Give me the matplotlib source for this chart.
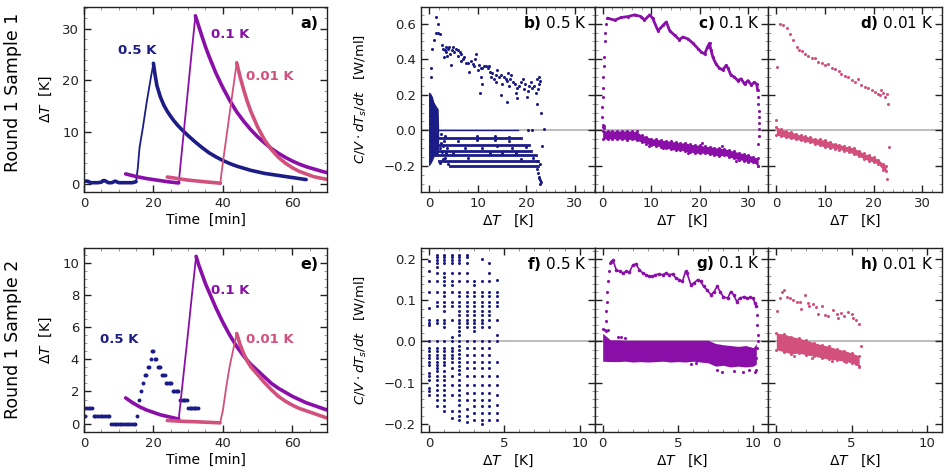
import matplotlib
matplotlib.use('Agg')
import matplotlib.pyplot as plt
from matplotlib.ticker import AutoMinorLocator, MultipleLocator

NAVY = '#1c1c87'
PURPLE = '#8a0fa8'
PINK = '#d2507c'

# ---------------- panel a (Round 1 Sample 1, time traces) ----------------
a05_t = [0, 1, 2, 3, 4, 5, 5.5, 6, 7, 8, 9, 10, 11, 12, 13, 14, 15, 15.5, 16, 17,
         18, 19, 20, 20.5, 21, 22, 23, 24, 25, 26, 27, 28, 30, 32, 34, 36, 38, 40, 42, 44,
         46, 48, 50, 52, 54, 56, 58, 60, 62, 64]
a05_v = [0.5, 0.5, 0.2, 0.2, 0.2, 0.3, 0.6, 0.6, 0.2, 0.2, 0.5, 0.2, 0.2, 0.2, 0.2, 0.2, 0.4, 3.0, 7.0, 11.0,
         15.5, 19.5, 23.3, 21.0, 19.0, 16.8, 15.2, 14.0, 13.0, 12.1, 11.3, 10.6, 9.3, 8.1, 7.0, 6.0, 5.2, 4.5, 3.9, 3.4,
         3.0, 2.6, 2.3, 2.0, 1.8, 1.6, 1.4, 1.2, 1.0, 0.8]
a01_t = [12, 15, 18, 21, 24, 27.2, 27.3, 28, 29, 30, 31, 32.1, 33, 34, 35, 36, 38, 40, 42, 44,
         46, 48, 50, 52, 54, 56, 58, 60, 62, 64, 66, 68, 70]
a01_v = [1.9, 1.4, 1.0, 0.7, 0.4, 0.15, 0.2, 5.0, 11.7, 18.5, 25.3, 32.5, 30.6, 28.5, 26.5, 24.7, 21.4, 18.6, 16.1, 13.9,
         12.1, 10.5, 9.1, 7.9, 6.8, 5.9, 5.1, 4.4, 3.8, 3.3, 2.9, 2.5, 2.15]
a001_t = [24, 27, 30, 33, 36, 39.3, 39.6, 40, 41, 42, 43, 44, 45, 46, 47, 48, 50, 52, 54, 56,
          58, 60, 62, 64, 66, 68, 70]
a001_v = [1.3, 1.0, 0.7, 0.5, 0.3, 0.1, 2.0, 4.0, 8.9, 13.8, 18.6, 23.4, 20.6, 18.2, 16.0, 14.1, 11.0, 8.5, 6.6, 5.1,
          4.0, 3.1, 2.4, 1.9, 1.4, 1.1, 0.85]

# ---------------- panel e (Round 1 Sample 2, time traces) ----------------
e05_t = [0.3, 0.3, 0.8, 1.3, 1.8, 2.3, 2.8, 3.3, 3.8, 4.3, 4.8, 5.3, 5.8, 6.3, 6.8, 7.3,
         7.8, 8.3, 8.8, 9.3, 9.8, 10.3, 10.8, 11.3, 11.8, 12.3, 12.8, 13.3, 13.8, 14.3, 14.8,
         15.3, 15.9, 16.5, 17.0, 17.6, 18.0, 18.4, 18.8, 19.2, 19.6, 20.0, 20.4, 20.8, 21.2, 21.6,
         22.0, 22.4, 22.8, 23.2, 23.6, 24.0, 24.4, 24.8, 25.2, 25.6, 26.0, 26.4, 26.8, 27.2, 27.6,
         28.0, 28.4, 28.8, 29.2, 29.6, 30.0, 30.4, 30.8, 31.2, 31.6, 32.0, 32.4, 32.8]
e05_v = [0.5, 1.0, 1.0, 1.0, 1.0, 1.0, 0.5, 0.5, 0.5, 0.5, 0.5, 0.5, 0.5, 0.5, 0.5, 0.5,
         0, 0, 0, 0, 0, 0, 0, 0, 0, 0, 0, 0, 0, 0, 0,
         0.5, 1.5, 2.0, 2.5, 3.0, 3.0, 3.5, 3.5, 4.0, 4.5, 4.5, 4.0, 4.0, 3.5, 3.5,
         3.5, 3.0, 3.0, 3.0, 2.5, 2.5, 2.5, 2.5, 2.5, 2.0, 2.0, 2.0, 2.0, 2.0, 1.5,
         1.5, 1.5, 1.5, 1.5, 1.5, 1.0, 1.0, 1.0, 1.0, 1.0, 1.0, 1.0, 1.0]
e01_t = [12, 14, 16, 18, 20, 22, 24, 27, 27.3, 28, 29, 30, 31, 32.3, 33, 34, 35, 36, 38, 40,
         42, 44, 46, 48, 50, 52, 54, 56, 58, 60, 62, 64, 66, 68, 70]
e01_v = [1.6, 1.3, 1.05, 0.85, 0.7, 0.55, 0.45, 0.3, 0.3, 1.7, 3.7, 5.7, 7.8, 10.4, 9.9, 9.3, 8.7, 8.2, 7.2, 6.3,
         5.5, 4.8, 4.2, 3.7, 3.3, 2.9, 2.5, 2.2, 1.95, 1.7, 1.5, 1.3, 1.15, 1.0, 0.85]
e001_t = [24, 28, 32, 36, 39.2, 40, 41, 42, 43, 44, 45, 46, 47, 48, 50, 52, 54, 56, 58, 60,
          62, 64, 66, 68, 70]
e001_v = [0.2, 0.15, 0.12, 0.08, 0.05, 0.8, 2.3, 3.6, 4.6, 5.6, 4.9, 4.35, 3.9, 3.55, 3.05, 2.55, 2.1, 1.7, 1.4, 1.15,
          0.95, 0.8, 0.65, 0.5, 0.35]

# ---------------- panel b (0.5 K, sample 1) ----------------
b_up_x = [1.44, 1.78, 1.44, 1.9, 2.3, 1.1, 0.55, 0.4, 0.4, 2.6, 2.8, 3.5, 4.2, 4.9, 5.2, 3.8, 3.1, 4.5, 5.9, 6.6,
          7.3, 6.6, 8.0, 8.3, 9.0, 9.7, 9.3, 10.0, 10.7, 11.4, 12.1, 12.4, 10.7, 11.0, 10.5, 12.7, 13.4, 14.1, 13.8, 14.8,
          15.1, 15.8, 16.2, 16.8, 16.5, 16.0, 17.2, 18.2, 17.9, 18.9, 19.3, 19.6, 20.1, 20.6, 21.3, 22.0, 22.3, 22.7, 22.7, 22.3,
          23.0, 18.2, 14.8, 3.2, 3.6, 4.0, 4.4, 4.8, 5.6, 6.0, 6.4, 7.0, 7.6, 8.6, 9.4, 10.2, 11.0, 11.8, 12.6, 13.0,
          13.8, 14.4, 15.4, 16.0, 16.6, 17.6, 18.6, 19.8, 20.4, 21.0, 21.6, 22.4, 22.9]
b_up_y = [0.64, 0.60, 0.55, 0.55, 0.54, 0.51, 0.46, 0.35, 0.30, 0.48, 0.46, 0.47, 0.47, 0.47, 0.44, 0.42, 0.41, 0.37, 0.45, 0.43,
          0.41, 0.39, 0.38, 0.33, 0.375, 0.43, 0.36, 0.34, 0.35, 0.36, 0.35, 0.36, 0.30, 0.26, 0.21, 0.30, 0.29, 0.34, 0.27, 0.31,
          0.26, 0.29, 0.32, 0.31, 0.25, 0.16, 0.27, 0.24, 0.21, 0.27, 0.29, 0.23, 0.19, 0.25, 0.24, 0.21, 0.29, 0.30, 0.26, 0.15,
          0.10, 0.18, 0.20, 0.45, 0.44, 0.46, 0.43, 0.45, 0.46, 0.42, 0.44, 0.40, 0.38, 0.39, 0.40, 0.37, 0.35, 0.36, 0.33, 0.32,
          0.31, 0.30, 0.30, 0.28, 0.29, 0.26, 0.25, 0.26, 0.22, 0.27, 0.25, 0.23, 0.28]
b_band_x = [-0.1, 0.3, 0.7, 1.0, 1.4, 1.9, 2.0]
b_band_hi = [0.215, 0.21, 0.19, 0.16, 0.14, 0.12, 0.0]
b_band_lo = [-0.2, -0.19, -0.17, -0.15, -0.14, -0.13, -0.1]
b_row_level = [0.003, -0.045, -0.08, -0.115, -0.14, -0.17, -0.2]
b_row_start = [0.0, 1.5, 1.8, 2.0, 1.5, 2.0, 4.3]
b_row_end = [18.3, 19.0, 20.5, 21.0, 22.0, 22.5, 22.5]
b_lo_x = [2.5, 3.0, 2.2, 3.5, 2.8, 4.0, 3.2, 9.8, 13.5, 16.5, 7.5, 12.5, 17.0, 22.3, 22.5, 22.6, 22.8, 22.9, 22.7, 23.0,
          23.2, 20.3, 21.3, 23.6, 22.8, 22.2, 6.0, 11.0, 15.0, 19.0, 9.8, 13.5, 16.5, 2.4, 2.9, 3.4, 2.6, 3.8, 2.3,
          5.0, 8.0, 14.0, 18.0, 20.0, 21.5]
b_lo_y = [-0.02, -0.06, -0.10, -0.13, -0.16, -0.19, -0.03, -0.055, -0.055, -0.06, -0.10, -0.13, -0.10, -0.22, -0.24, -0.26, -0.28, -0.30, -0.27, -0.29,
          -0.09, 0.003, 0.003, 0.01, -0.19, -0.17, -0.06, -0.10, -0.13, -0.16, -0.03, -0.03, -0.035, -0.07, -0.09, -0.155, -0.12, -0.1, -0.185,
          -0.125, -0.155, -0.09, -0.125, -0.095, -0.155]

# ---------------- panel c (0.1 K, sample 1) ----------------
c_up_x = [1.1, 2.5, 3.8, 5.2, 6.6, 7.9, 8.6, 9.7, 10.3, 11.4, 12.4, 13.1, 13.8, 14.8, 15.8, 16.5, 17.5, 18.6, 19.6, 20.3,
          21.0, 21.6, 22.0, 22.3, 22.7, 23.3, 24.0, 24.7, 25.4, 25.8, 26.4, 27.1, 27.8, 28.5, 29.2, 29.9, 30.6, 31.2, 31.7, 31.9]
c_up_y = [0.63, 0.62, 0.635, 0.64, 0.65, 0.64, 0.62, 0.65, 0.63, 0.56, 0.59, 0.61, 0.56, 0.535, 0.51, 0.525, 0.515, 0.49, 0.46, 0.44,
          0.43, 0.47, 0.49, 0.45, 0.41, 0.375, 0.35, 0.34, 0.365, 0.35, 0.31, 0.30, 0.28, 0.29, 0.26, 0.28, 0.255, 0.27, 0.26, 0.225]
c_rise_x = [-0.1, -0.1, 0.0, 0.05, 0.05, 0.2, 0.3, 0.4, 0.55, 0.75, 0.9]
c_rise_y = [0.075, 0.13, 0.19, 0.24, 0.30, 0.36, 0.41, 0.50, 0.55, 0.60, 0.63]
c_fall_x = [31.9, 32.0, 32.1, 32.15, 32.2, 32.2, 32.25, 32.0, 31.9]
c_fall_y = [0.19, 0.15, 0.11, 0.075, 0.04, 0.01, -0.03, -0.075, -0.2]
c_band_x = [0, 1, 2, 3, 4, 5, 6, 7, 8, 9, 10, 11, 12, 13, 14, 15, 16, 17, 18, 19,
            20, 21, 22, 23, 24, 25, 26, 27, 28, 29, 30, 31, 32]
c_band_hi = [-0.003, -0.002, -0.004, -0.003, -0.004, -0.003, -0.005, -0.006, -0.028, -0.035, -0.047, -0.05, -0.055, -0.058, -0.062, -0.066, -0.072, -0.07, -0.078, -0.082,
             -0.084, -0.09, -0.092, -0.097, -0.1, -0.103, -0.11, -0.118, -0.125, -0.132, -0.14, -0.148, -0.158]
c_band_lo = [-0.048, -0.05, -0.047, -0.05, -0.049, -0.052, -0.05, -0.056, -0.066, -0.075, -0.084, -0.088, -0.092, -0.1, -0.106, -0.113, -0.11, -0.118, -0.122, -0.128,
             -0.13, -0.128, -0.135, -0.14, -0.145, -0.14, -0.15, -0.158, -0.165, -0.17, -0.178, -0.18, -0.2]
c_pt_x = [0.0, 0.1, 0.2, 0.3, 9.5, 12.5, 17.5, 20.5, 24.5, 27.5]
c_pt_y = [0.03, 0.02, 0.025, 0.012, -0.09, -0.1, -0.125, -0.07, -0.09, -0.17]

# ---------------- panel d (0.01 K, sample 1) ----------------
d_up_x = [0.07, 0.75, 1.4, 2.1, 2.8, 3.5, 4.2, 4.7, 5.2, 5.9, 6.6, 7.3, 8.0, 8.6, 9.3, 10.0, 10.7, 11.4, 12.1, 12.8,
          13.4, 14.1, 14.8, 15.5, 16.2, 16.8, 17.5, 18.2, 18.9, 19.6, 20.3, 20.9, 21.3, 21.6, 22.0, 22.3, 22.7, 23.0]
d_up_y = [0.356, 0.60, 0.59, 0.578, 0.544, 0.507, 0.469, 0.454, 0.445, 0.431, 0.416, 0.409, 0.409, 0.385, 0.379, 0.366, 0.375, 0.353, 0.343, 0.334,
          0.319, 0.306, 0.30, 0.285, 0.272, 0.291, 0.257, 0.244, 0.238, 0.225, 0.216, 0.206, 0.197, 0.225, 0.21, 0.188, 0.203, 0.146]
d_band_x = [0, 1, 2, 3, 4, 5, 6, 7, 8, 9, 10, 11, 12, 13, 14, 15, 16, 17, 18, 19, 20, 21, 22, 22.6]
d_band_hi = [0.019, 0.008, -0.004, -0.01, -0.018, -0.028, -0.032, -0.04, -0.047, -0.05, -0.056, -0.065, -0.075, -0.08, -0.088, -0.094, -0.1, -0.115, -0.13, -0.14, -0.15, -0.165, -0.188, -0.2]
d_band_lo = [-0.028, -0.032, -0.04, -0.045, -0.05, -0.056, -0.062, -0.068, -0.075, -0.085, -0.094, -0.098, -0.103, -0.108, -0.115, -0.122, -0.135, -0.145, -0.16, -0.17, -0.178, -0.19, -0.225, -0.23]
d_pt_x = [-0.1, 23.2, 22.8]
d_pt_y = [0.056, -0.094, -0.276]

# ---------------- panel f (0.5 K, sample 2): quantised columns ----------------
f_col_x = [0.0, 0.5, 1.0, 1.5, 2.0, 2.5, 3.0, 3.5, 4.0, 4.5]
f_col_y = [
    [0.195, 0.17, 0.148, 0.121, 0.081, 0.053, 0.045, 0.039, 0.0, -0.016, -0.024, -0.032, -0.04, -0.049, -0.057,
     -0.077, -0.085, -0.093, -0.113, -0.121, -0.13],
    [0.21, 0.204, 0.198, 0.19, 0.182, 0.166, 0.146, 0.121, 0.097, 0.085, 0.053, 0.045, 0.0, -0.016, -0.024, -0.032,
     -0.04, -0.049, -0.057, -0.065, -0.073, -0.085, -0.093, -0.105, -0.117, -0.13, -0.142, -0.158],
    [0.21, 0.204, 0.198, 0.19, 0.166, 0.156, 0.146, 0.136, 0.121, 0.11, 0.097, 0.085, 0.075, 0.053, 0.045, 0.035, 0.0,
     -0.016, -0.024, -0.032, -0.04, -0.049, -0.057, -0.073, -0.085, -0.093, -0.105, -0.117, -0.13, -0.142, -0.158, -0.17],
    [0.21, 0.204, 0.198, 0.19, 0.166, 0.146, 0.136, 0.121, 0.097, 0.085, 0.053, 0.01, 0.0, -0.016, -0.024, -0.032,
     -0.04, -0.049, -0.065, -0.085, -0.105, -0.13, -0.17, -0.186],
    [0.21, 0.204, 0.198, 0.19, 0.166, 0.146, 0.121, 0.11, 0.097, 0.085, 0.075, 0.065, 0.053, 0.045, 0.035, 0.025, 0.015,
     0.0, -0.01, -0.02, -0.03, -0.04, -0.05, -0.06, -0.07, -0.08, -0.093, -0.105, -0.117, -0.13, -0.142, -0.155, -0.17,
     -0.182, -0.19],
    [0.21, 0.204, 0.19, 0.166, 0.146, 0.121, 0.11, 0.097, 0.085, 0.075, 0.065, 0.053, 0.045, 0.035, 0.0, -0.016, -0.032,
     -0.049, -0.065, -0.085, -0.105, -0.125, -0.142, -0.165, -0.18, -0.195],
    [0.146, 0.136, 0.121, 0.11, 0.097, 0.085, 0.075, 0.065, 0.053, 0.045, 0.035, 0.025, 0.0, -0.016, -0.032, -0.049,
     -0.065, -0.085, -0.105, -0.125, -0.142, -0.158, -0.175, -0.19],
    [0.2, 0.146, 0.121, 0.11, 0.097, 0.085, 0.075, 0.065, 0.053, 0.045, 0.035, 0.0, -0.016, -0.032, -0.049, -0.065,
     -0.085, -0.105, -0.125, -0.142, -0.158, -0.175, -0.19, -0.2],
    [0.19, 0.166, 0.146, 0.121, 0.11, 0.097, 0.085, 0.075, 0.065, 0.053, 0.035, 0.0, -0.016, -0.032, -0.049, -0.065,
     -0.085, -0.105, -0.125, -0.142, -0.158, -0.175, -0.19],
    [0.15, 0.121, 0.11, 0.097, 0.085, 0.053, 0.015, 0.0, -0.05, -0.085, -0.105, -0.13, -0.155, -0.175, -0.19],
]

# ---------------- panel g (0.1 K, sample 2) ----------------
g_up_x = [0.57, 0.68, 0.9, 1.12, 1.34, 1.56, 1.78, 2.0, 2.2, 2.44, 2.66, 2.88, 3.1, 3.3, 3.5, 3.76, 3.98, 4.2, 4.42, 4.64,
          4.86, 5.08, 5.3, 5.5, 5.6, 5.85, 6.07, 6.3, 6.5, 6.7, 6.9, 7.2, 7.4, 7.6, 7.8, 8.0, 8.3, 8.5, 8.7, 8.9,
          9.1, 9.4, 9.6, 9.8, 10.0, 10.1, 10.2]
g_up_y = [0.194, 0.198, 0.174, 0.17, 0.166, 0.17, 0.168, 0.186, 0.188, 0.174, 0.166, 0.162, 0.158, 0.158, 0.162, 0.164, 0.162, 0.166, 0.162, 0.164,
          0.154, 0.15, 0.146, 0.17, 0.166, 0.138, 0.142, 0.15, 0.146, 0.134, 0.126, 0.113, 0.121, 0.134, 0.121, 0.109, 0.105, 0.121, 0.113, 0.097,
          0.105, 0.109, 0.105, 0.107, 0.105, 0.093, 0.085]
g_rise_x = [0.13, 0.24, 0.24, 0.26, 0.31, 0.35, 0.40, 0.46]
g_rise_y = [0.028, 0.049, 0.073, 0.097, 0.121, 0.146, 0.17, 0.19]
g_fall_x = [10.24, 10.26, 10.28, 10.28, 10.24, 10.2, 10.2]
g_fall_y = [0.065, 0.04, 0.016, 0.0, -0.016, -0.04, -0.069]
g_band_x = [0.0, 0.5, 1.0, 1.5, 2.0, 2.5, 3.0, 3.5, 4.0, 4.5, 5.0, 5.5, 6.0, 6.5, 7.0, 7.5, 8.0, 8.5, 9.0, 9.5, 10.0, 10.2]
g_band_hi = [0.02, 0.004, 0.004, 0.003, 0.003, 0.003, 0.003, 0.003, 0.003, 0.003, 0.003, 0.003, 0.003, 0.003, 0.003, -0.005, -0.008, -0.01, -0.012, -0.01, -0.015, -0.005]
g_band_lo = [-0.048, -0.049, -0.049, -0.048, -0.05, -0.049, -0.05, -0.049, -0.048, -0.05, -0.049, -0.05, -0.048, -0.05, -0.052, -0.06, -0.058, -0.062, -0.06, -0.062, -0.06, -0.055]
g_pt_x = [7.6, 7.9, 8.7, 9.3, 9.7, 10.1, 1.0, 1.2, 1.5, 0.05, 0.2, 0.35, 5.85, 6.2]
g_pt_y = [-0.07, -0.075, -0.072, -0.075, -0.07, -0.074, 0.01, 0.012, 0.009, 0.03, 0.025, 0.028, -0.055, -0.053]

# ---------------- panel h (0.01 K, sample 2) ----------------
h_up_x = [0.07, 0.24, 0.4, 0.5, 0.68, 0.9, 1.12, 1.34, 1.56, 1.67, 1.9, 2.1, 2.2, 2.44, 2.66, 2.77, 3.0, 3.2, 3.4, 3.76,
          4.0, 4.1, 4.3, 4.5, 4.75, 5.0, 5.1, 5.3, 5.5]
h_up_y = [0.073, 0.105, 0.121, 0.126, 0.109, 0.105, 0.101, 0.097, 0.097, 0.079, 0.112, 0.093, 0.087, 0.091, 0.083, 0.066, 0.085, 0.065, 0.061, 0.077,
          0.066, 0.057, 0.069, 0.061, 0.071, 0.066, 0.057, 0.053, 0.042]
h_band_x = [0, 0.5, 1, 1.5, 2, 2.5, 3, 3.5, 4, 4.5, 5, 5.5]
h_band_hi = [0.02, 0.018, 0.012, 0.008, 0.003, -0.003, -0.008, -0.012, -0.018, -0.022, -0.028, -0.035]
h_band_lo = [-0.02, -0.025, -0.03, -0.028, -0.033, -0.035, -0.04, -0.043, -0.045, -0.048, -0.052, -0.06]
h_pt_x = [5.6, 5.5, 5.3, 4.6, 3.7, 2.4, 1.2]
h_pt_y = [-0.01, -0.062, -0.055, -0.05, -0.048, -0.04, -0.035]

# ============================ drawing ============================
fig = plt.figure(figsize=(9.48, 4.75), dpi=100)

ax_w_left = 0.2563
ax_w = 0.1832
top_y, top_h = 0.5958, 0.3895
bot_y, bot_h = 0.0905, 0.3874
xl = [0.0886, 0.4441, 0.6273, 0.8105]

ax_a = fig.add_axes([xl[0], top_y, ax_w_left, top_h])
ax_b = fig.add_axes([xl[1], top_y, ax_w, top_h])
ax_c = fig.add_axes([xl[2], top_y, ax_w, top_h])
ax_d = fig.add_axes([xl[3], top_y, ax_w, top_h])
ax_e = fig.add_axes([xl[0], bot_y, ax_w_left, bot_h])
ax_f = fig.add_axes([xl[1], bot_y, ax_w, bot_h])
ax_g = fig.add_axes([xl[2], bot_y, ax_w, bot_h])
ax_h = fig.add_axes([xl[3], bot_y, ax_w, bot_h])


def style(ax):
    ax.tick_params(which='both', direction='in', top=True, right=True)
    ax.tick_params(which='major', length=5, width=1.0, labelsize=9.5, colors='#222222')
    ax.tick_params(which='minor', length=2.5, width=0.6, color='#888888')
    ax.xaxis.set_minor_locator(AutoMinorLocator())
    ax.yaxis.set_minor_locator(AutoMinorLocator())
    for s in ax.spines.values():
        s.set_linewidth(1.0)
        s.set_color('#222222')


def trace(ax, t, v, col, i0, i1):
    """heating ramp (index i0..i1) drawn thin, the rest thick"""
    ax.plot(t[:i0 + 1], v[:i0 + 1], '-', color=col, lw=2.6, solid_capstyle='round')
    ax.plot(t[i0:i1 + 1], v[i0:i1 + 1], '-', color=col, lw=1.3)
    ax.plot(t[i1:], v[i1:], '-', color=col, lw=2.6, solid_capstyle='round')


# ---- time-trace panels
trace(ax_a, a05_t, a05_v, NAVY, 16, 22)
trace(ax_a, a01_t, a01_v, PURPLE, 6, 11)
trace(ax_a, a001_t, a001_v, PINK, 5, 11)
ax_e.plot(e05_t, e05_v, 'o', ms=2.8, color=NAVY, mec='none')
trace(ax_e, e01_t, e01_v, PURPLE, 8, 13)
trace(ax_e, e001_t, e001_v, PINK, 4, 9)

for ax, ylim, ymaj, lbl, lab_pos in [
        (ax_a, (-1.6, 34.2), 10, 'a)', [(15.4, 25.8), (42.2, 28.9), (53.5, 20.8)]),
        (ax_e, (-0.52, 10.92), 2, 'e)', [(10.2, 5.24), (42.2, 8.25), (53.5, 5.24)])]:
    for (x, y), txt, col in zip(lab_pos, ['0.5 K', '0.1 K', '0.01 K'], [NAVY, PURPLE, PINK]):
        ax.text(x, y, txt, color=col, fontsize=9.5, fontweight='bold', ha='center', va='center')
    ax.set_xlim(0, 70)
    ax.set_ylim(*ylim)
    ax.xaxis.set_major_locator(MultipleLocator(20))
    ax.yaxis.set_major_locator(MultipleLocator(ymaj))
    style(ax)
    ax.set_xlabel('Time  [min]', fontsize=10, labelpad=2)
    ax.set_ylabel(r'$\Delta T$  [K]', fontsize=10)
    ax.yaxis.set_label_coords(-0.125, 0.5)
    ax.text(0.965, 0.91, lbl, transform=ax.transAxes, ha='right', va='center',
            fontsize=11.5, fontweight='bold')

fig.text(0.014, 0.805, 'Round 1 Sample 1', rotation=90, ha='center', va='center', fontsize=12.5)
fig.text(0.014, 0.286, 'Round 1 Sample 2', rotation=90, ha='center', va='center', fontsize=12.5)

MS = 2.2

# ---- panel b
ax = ax_b
ax.fill_between(b_band_x, b_band_lo, b_band_hi, color=NAVY, lw=0)
for lev, x0, x1 in zip(b_row_level, b_row_start, b_row_end):
    ax.plot([x0, x1], [lev, lev], '-', color=NAVY, lw=1.0 if lev > 0 else 2.0)
ax.plot(b_lo_x, b_lo_y, 'o', ms=MS, color=NAVY, mec='none')
ax.plot(b_up_x, b_up_y, 'o', ms=MS, color=NAVY, mec='none')

# ---- panel c
ax = ax_c
ax.fill_between(c_band_x, c_band_lo, c_band_hi, color=PURPLE, lw=0)
ax.plot(c_band_x, c_band_hi, 'o', ms=MS, color=PURPLE, mec='none')
ax.plot(c_band_x, c_band_lo, 'o', ms=MS, color=PURPLE, mec='none')
ax.plot(c_pt_x, c_pt_y, 'o', ms=MS, color=PURPLE, mec='none')
ax.plot(c_up_x, c_up_y, '-o', ms=MS, lw=2.0, color=PURPLE, mec='none')
ax.plot(c_rise_x, c_rise_y, 'o', ms=MS, color=PURPLE, mec='none')
ax.plot(c_fall_x, c_fall_y, 'o', ms=MS, color=PURPLE, mec='none')

# ---- panel d
ax = ax_d
ax.fill_between(d_band_x, d_band_lo, d_band_hi, color=PINK, lw=0)
ax.plot(d_band_x, d_band_hi, 'o', ms=MS, color=PINK, mec='none')
ax.plot(d_band_x, d_band_lo, 'o', ms=MS, color=PINK, mec='none')
ax.plot(d_up_x, d_up_y, 'o', ms=MS, color=PINK, mec='none')
ax.plot(d_pt_x, d_pt_y, 'o', ms=MS, color=PINK, mec='none')

# ---- panel f
ax = ax_f
for x, ys in zip(f_col_x, f_col_y):
    ax.plot([x] * len(ys), ys, 'o', ms=MS, color=NAVY, mec='none')

# ---- panel g
ax = ax_g
ax.fill_between(g_band_x, g_band_lo, g_band_hi, color=PURPLE, lw=0)
ax.plot(g_pt_x, g_pt_y, 'o', ms=MS, color=PURPLE, mec='none')
ax.plot(g_up_x, g_up_y, '-o', ms=MS + 0.4, lw=1.2, color=PURPLE, mec='none')
ax.plot(g_rise_x, g_rise_y, 'o', ms=MS, color=PURPLE, mec='none')
ax.plot(g_fall_x, g_fall_y, 'o', ms=MS, color=PURPLE, mec='none')

# ---- panel h
ax = ax_h
ax.fill_between(h_band_x, h_band_lo, h_band_hi, color=PINK, lw=0)
ax.plot(h_band_x, h_band_hi, 'o', ms=MS, color=PINK, mec='none')
ax.plot(h_band_x, h_band_lo, 'o', ms=MS, color=PINK, mec='none')
ax.plot(h_up_x, h_up_y, 'o', ms=MS, color=PINK, mec='none')
ax.plot(h_pt_x, h_pt_y, 'o', ms=MS, color=PINK, mec='none')

# ---- common styling of rate panels
ylab = r'$C/V\cdot dT_s/dt$   [W/ml]'
for axs, xlim, ylim, xmaj, ymaj, tags in [
        ([ax_b, ax_c, ax_d], (-1.64, 34.1), (-0.347, 0.694), 10, 0.2, ['b', 'c', 'd']),
        ([ax_f, ax_g, ax_h], (-0.53, 11.0), (-0.220, 0.227), 5, 0.1, ['f', 'g', 'h'])]:
    for i, (ax, tag, lvl) in enumerate(zip(axs, tags, ['0.5 K', '0.1 K', '0.01 K'])):
        ax.axhline(0, color='#b0b0b0', lw=1.2, zorder=0.5)
        ax.set_xlim(*xlim)
        ax.set_ylim(*ylim)
        ax.xaxis.set_major_locator(MultipleLocator(xmaj))
        ax.yaxis.set_major_locator(MultipleLocator(ymaj))
        style(ax)
        ax.set_xlabel(r'$\Delta T$   [K]', fontsize=10, labelpad=2)
        ax.text(0.955, 0.915, r'$\mathbf{' + tag + r')}$ ' + lvl, transform=ax.transAxes,
                ha='right', va='center', fontsize=11)
        if i == 0:
            ax.set_ylabel(ylab, fontsize=9.5)
            ax.yaxis.set_label_coords(-0.30, 0.5)
        else:
            ax.tick_params(labelleft=False)

fig.savefig('out.png', dpi=100)
